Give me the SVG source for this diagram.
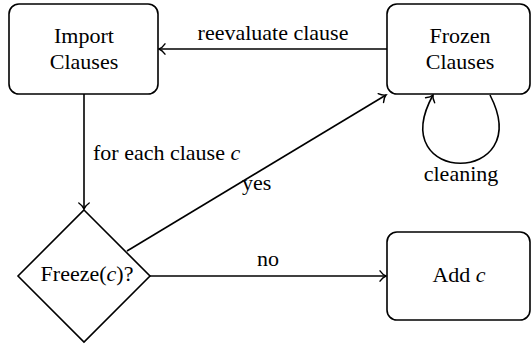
<svg xmlns="http://www.w3.org/2000/svg" width="532" height="346" viewBox="0 0 532 346" font-family="'Liberation Serif', 'Times New Roman', Times, serif">
  <style>
    .box { fill: #fff; stroke: #000; stroke-width: 1.6; }
    .edge { fill: none; stroke: #000; stroke-width: 1.6; }
    .t { font-family: 'Liberation Serif', 'Times New Roman', Times, serif; font-size: 22px; fill: #000; }
    .c { text-anchor: middle; }
    .m { font-style: italic; }
  </style>
  <defs>
    <marker id="to" markerWidth="14" markerHeight="14" refX="10" refY="7" orient="auto" markerUnits="userSpaceOnUse" overflow="visible">
      <path d="M4,1.8 C6,4.6 8,6.3 10,7 C8,7.7 6,9.4 4,12.2" fill="none" stroke="#000" stroke-width="1.4" stroke-linecap="round"/>
    </marker>
  </defs>

  <g id="connectors">
    <!-- Frozen -> Import -->
    <line class="edge" x1="387" y1="49" x2="159" y2="49" marker-end="url(#to)"/>
    <text class="t c" x="273" y="40">reevaluate clause</text>
    <!-- Import -> Freeze -->
    <line class="edge" x1="84" y1="94" x2="84" y2="209" marker-end="url(#to)"/>
    <text class="t" x="93" y="160">for each clause <tspan class="m">c</tspan></text>
    <!-- Freeze -> Frozen (yes) -->
    <line class="edge" x1="127" y1="251" x2="386" y2="95" marker-end="url(#to)"/>
    <text class="t" x="242" y="190">yes</text>
    <!-- Freeze -> Add (no) -->
    <line class="edge" x1="150" y1="276" x2="386" y2="276" marker-end="url(#to)"/>
    <text class="t c" x="268" y="266">no</text>
    <!-- Frozen self loop -->
    <path class="edge" d="M490,95 C537,186 383,186 433,95" marker-end="url(#to)"/>
    <text class="t c" x="461" y="181">cleaning</text>
  </g>

  <g id="import">
    <rect class="box" x="9" y="4" width="149" height="90" rx="10"/>
    <text class="t c" x="84" y="43">Import</text>
    <text class="t c" x="84" y="69">Clauses</text>
  </g>

  <g id="frozen">
    <rect class="box" x="387" y="4" width="143" height="90" rx="10"/>
    <text class="t c" x="460" y="43">Frozen</text>
    <text class="t c" x="460" y="69">Clauses</text>
  </g>

  <g id="freeze">
    <polygon class="box" points="84,210 150,276 84,342 18,276"/>
    <text class="t c" x="87" y="281">Freeze(<tspan class="m">c</tspan>)?</text>
  </g>

  <g id="add">
    <rect class="box" x="387" y="232" width="143" height="88" rx="10"/>
    <text class="t c" x="459" y="282">Add <tspan class="m">c</tspan></text>
  </g>
</svg>
